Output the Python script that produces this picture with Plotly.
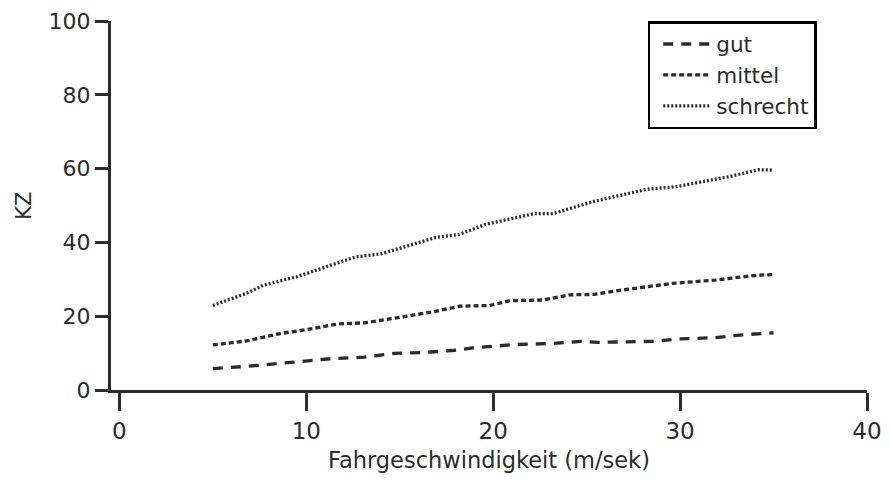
import plotly.graph_objects as go

# Data
gut_x = [5.0, 6.8, 9.0, 11.1, 13.1, 14.7, 16.4, 17.8, 18.9, 21.1, 23.2, 24.7, 25.6, 28.7, 29.8, 31.9, 33.2, 35.0]
gut_y = [5.8, 6.4, 7.4, 8.4, 8.9, 9.9, 10.2, 10.7, 11.4, 12.3, 12.6, 13.2, 12.9, 13.2, 13.8, 14.2, 14.9, 15.5]

mittel_x = [5.0, 6.8, 8.6, 10.05, 11.7, 13.1, 14.9, 16.9, 18.2, 19.8, 20.9, 22.7, 24.1, 25.4, 26.9, 29.6, 31.9, 34.1, 35.0]
mittel_y = [12.2, 13.3, 15.3, 16.4, 17.9, 18.2, 19.6, 21.3, 22.7, 22.9, 24.2, 24.4, 25.8, 25.9, 27.1, 28.9, 29.8, 31.1, 31.3]

schrecht_x = [5.0, 6.8, 7.7, 9.5, 11.3, 12.6, 14.0, 14.9, 16.9, 18.2, 19.6, 22.2, 23.2, 25.3, 28.2, 29.8, 32.6, 34.2, 35.0]
schrecht_y = [22.9, 26.2, 28.4, 30.7, 33.8, 36.0, 36.9, 38.2, 41.3, 42.2, 44.9, 47.8, 47.8, 51.0, 54.4, 55.1, 57.8, 59.7, 59.6]

x_ticks = [0, 10, 20, 30, 40]
y_ticks = [0, 20, 40, 60, 80, 100]

INK = "#2b2b2b"
FONT = "DejaVu Sans"

fig = go.Figure()
fig.add_trace(go.Scatter(x=gut_x, y=gut_y, mode="lines", name="gut",
                         line=dict(color=INK, width=3.3, dash="10px,8px")))
fig.add_trace(go.Scatter(x=mittel_x, y=mittel_y, mode="lines", name="mittel",
                         line=dict(color=INK, width=3.3, dash="5px,3px")))
fig.add_trace(go.Scatter(x=schrecht_x, y=schrecht_y, mode="lines", name="schrecht",
                         line=dict(color=INK, width=3.3, dash="2px,2px")))

# page has an 8px body margin, so the figure is 882x474 and offset accordingly
fig.update_layout(
    width=882, height=474,
    margin=dict(l=103, r=23, t=13, b=92),
    paper_bgcolor="white", plot_bgcolor="white",
    font=dict(family=FONT, size=22, color=INK),
    showlegend=True,
    legend=dict(x=0.71, y=1.0, xanchor="left", yanchor="top",
                bgcolor="white", bordercolor="black", borderwidth=2.5,
                font=dict(family=FONT, size=21.5, color=INK),
                tracegroupgap=0, itemwidth=48, indentation=8),
    annotations=[
        dict(text="Fahrgeschwindigkeit (m/sek)", xref="paper", yref="paper",
             x=0.5, y=-0.19, xanchor="center", yanchor="middle", showarrow=False,
             font=dict(family=FONT, size=22.5, color=INK)),
        dict(text="KZ", xref="paper", yref="paper", textangle=-90,
             x=-0.116, y=0.5, xanchor="center", yanchor="middle", showarrow=False,
             font=dict(family=FONT, size=21, color=INK)),
    ],
)
fig.update_xaxes(range=[-0.45, 40], tickvals=x_ticks, ticktext=[str(v) for v in x_ticks],
                 automargin=False,
                 showgrid=False, zeroline=False, showline=True, linecolor=INK, linewidth=3,
                 ticks="outside", ticklen=18, tickwidth=3, tickcolor=INK,
                 ticklabelstandoff=0, ticklabeloverflow="allow",
                 tickfont=dict(family=FONT, size=23, color=INK))
fig.update_yaxes(range=[0, 100], tickvals=y_ticks, ticktext=[str(v) for v in y_ticks],
                 automargin=False,
                 showgrid=False, zeroline=False, showline=True, linecolor=INK, linewidth=3,
                 ticks="outside", ticklen=13, tickwidth=3, tickcolor=INK,
                 ticklabelstandoff=0, ticklabeloverflow="allow",
                 tickfont=dict(family=FONT, size=22, color=INK))

fig.write_html("out.html")
